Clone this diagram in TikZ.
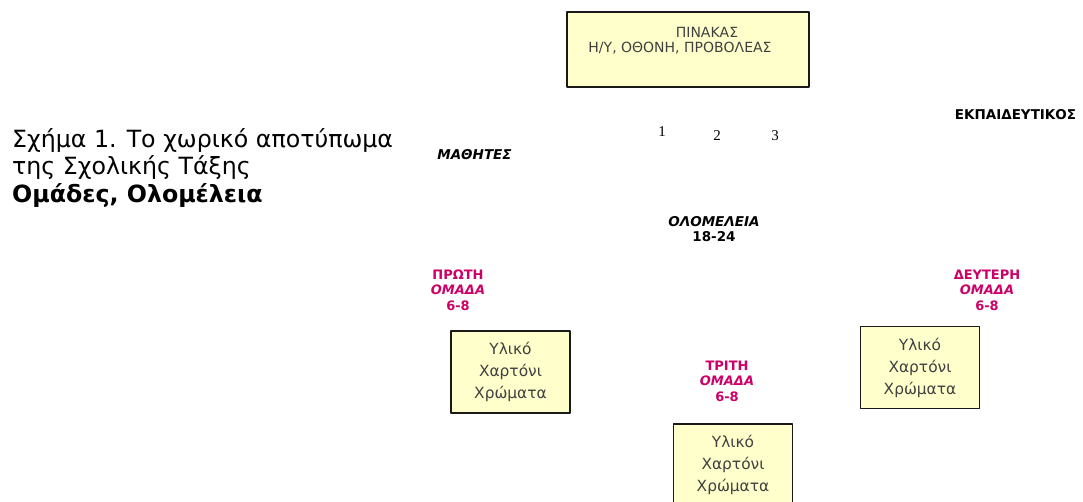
\documentclass[tikz,border=0pt]{standalone}
\usepackage{fontspec}
\setmainfont{DejaVu Sans}
\newfontfamily\arithmoi{Liberation Serif}
\definecolor{kitrino}{HTML}{FFFFCC}
\definecolor{roz}{HTML}{CC0066}
\begin{document}
\begin{tikzpicture}[x=1pt, y=-1pt, line join=round,
	kouti/.style={draw=black!90, line width=1.8pt, fill=kitrino},
	yliko/.style={kouti, minimum width=119pt, minimum height=82pt, align=center, text=black!75, font=\fontsize{15.4}{22}\selectfont},
	omada/.style={text=roz, align=center, font=\fontsize{13}{15.5}\selectfont\bfseries},
	etiketa/.style={align=center, font=\fontsize{13.5}{15}\selectfont\bfseries},
	arithmos/.style={font=\arithmoi\fontsize{15}{16}\selectfont}]
	\useasboundingbox (0,0) rectangle (1083,501);
	% titlos
	\node[anchor=base west, align=left, inner sep=0pt, font=\fontsize{23.7}{27.5}\selectfont] (titlos) at (12,202)
	{Σχήμα 1. Το χωρικό αποτύπωμα\\της Σχολικής Τάξης\\\textbf{Ομάδες, Ολομέλεια}};
	% pinakas
	\node[kouti, minimum width=242pt, minimum height=75pt] (pinakas) at (688,49.5) {};
	\node[text=black!75, font=\fontsize{14}{15}\selectfont] (pinakas1) at (707,32) {ΠΙΝΑΚΑΣ};
	\node[text=black!75, font=\fontsize{14}{15}\selectfont] (pinakas2) at (680,48) {Η/Υ, ΟΘΟΝΗ, ΠΡΟΒΟΛΕΑΣ};
	\foreach \a/\x/\y in {1/662/132,2/717/136,3/775/136}
	\node[arithmos] (thesi\a) at (\x,\y) {\a};% theseis
	\node[etiketa] (ekpaideutikos) at (1015.5,115) {ΕΚΠΑΙΔΕΥΤΙΚΟΣ};
	\node[etiketa] (mathites) at (474.5,155) {\textit{ΜΑΘΗΤΕΣ}};
	\node[etiketa] (olomeleia) at (714,229.5) {\textit{ΟΛΟΜΕΛΕΙΑ}\\18-24};
	% omades
	\foreach \n/\bx/\by/\lx/\ly/\onoma in {1/510.5/372/458/290/ΠΡΩΤΗ,2/920/367.5/987/290/ΔΕΥΤΕΡΗ,3/733/465/727/381/ΤΡΙΤΗ}
	{
		\node[omada] (omada\n) at (\lx,\ly) {\onoma\\\textit{ΟΜΑΔΑ}\\6-8};
		\node[yliko] (yliko\n) at (\bx,\by) {Υλικό\\Χαρτόνι\\Χρώματα};
	}
\end{tikzpicture}
\end{document}
